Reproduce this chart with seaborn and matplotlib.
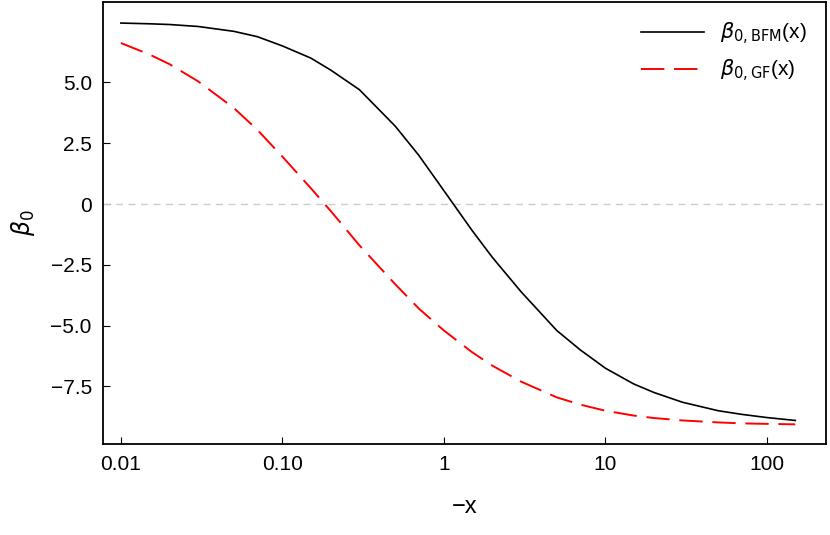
import matplotlib
matplotlib.use("Agg")
import matplotlib.pyplot as plt
import seaborn as sns
import pandas as pd

x_vals = [0.01,0.015,0.02,0.03,0.05,0.07,0.1,0.15,0.2,0.3,0.5,0.7,1,1.5,2,3,5,7,10,15,20,30,50,70,100,150]
bfm = [7.44,7.41,7.38,7.3,7.1,6.88,6.5,6.0,5.5,4.7,3.2,2.0,0.55,-1.1,-2.2,-3.6,-5.2,-6.0,-6.75,-7.4,-7.75,-8.15,-8.5,-8.65,-8.78,-8.9]
gf = [6.62,6.15,5.75,5.05,3.95,3.05,1.95,0.65,-0.3,-1.7,-3.3,-4.3,-5.2,-6.1,-6.65,-7.3,-7.95,-8.25,-8.5,-8.7,-8.8,-8.9,-8.98,-9.02,-9.04,-9.06]
xticks = [0.01,0.1,1,10,100]
xticklabels = ["0.01","0.10","1","10","100"]
yticks = [5.0,2.5,0,-2.5,-5.0,-7.5]
yticklabels = ["5.0","2.5","0","\u22122.5","\u22125.0","\u22127.5"]

df = pd.DataFrame({"x": x_vals, "bfm": bfm, "gf": gf})
plt.rcParams["font.family"] = "Liberation Sans"
fig = plt.figure(figsize=(8.3,5.35), dpi=100)
ax = fig.add_axes([0.124,0.170,0.871,0.826])
ax.axhline(0, color="#cccccc", lw=1, ls=(0,(5,4)))
sns.lineplot(data=df, x="x", y="bfm", ax=ax, color="black", lw=1.2, label=r"$\beta_{0,\mathrm{BFM}}$(x)")
sns.lineplot(data=df, x="x", y="gf", ax=ax, color="red", lw=1.4, dashes=False, label=r"$\beta_{0,\mathrm{GF}}$(x)")
ax.lines[-1].set_dashes([12,5])
ax.set_xscale("log")
ax.set_xlim(0.00774,232)
ax.set_ylim(-9.87,8.3)
ax.set_xticks(xticks); ax.set_xticklabels(xticklabels)
ax.minorticks_off()
ax.set_yticks(yticks); ax.set_yticklabels(yticklabels)
ax.tick_params(labelsize=15, direction="in", length=5, pad=8)
for s in ax.spines.values():
    s.set_linewidth(1.3)
ax.set_xlabel("\u2212x", fontsize=17, labelpad=16)
ax.set_ylabel(r"$\beta_0$", fontsize=17, labelpad=10)
leg = ax.legend(loc="upper right", frameon=False, fontsize=15, handlelength=3)
leg.get_lines()[1].set_dashes([12,5])
fig.savefig("out.png", dpi=100)
